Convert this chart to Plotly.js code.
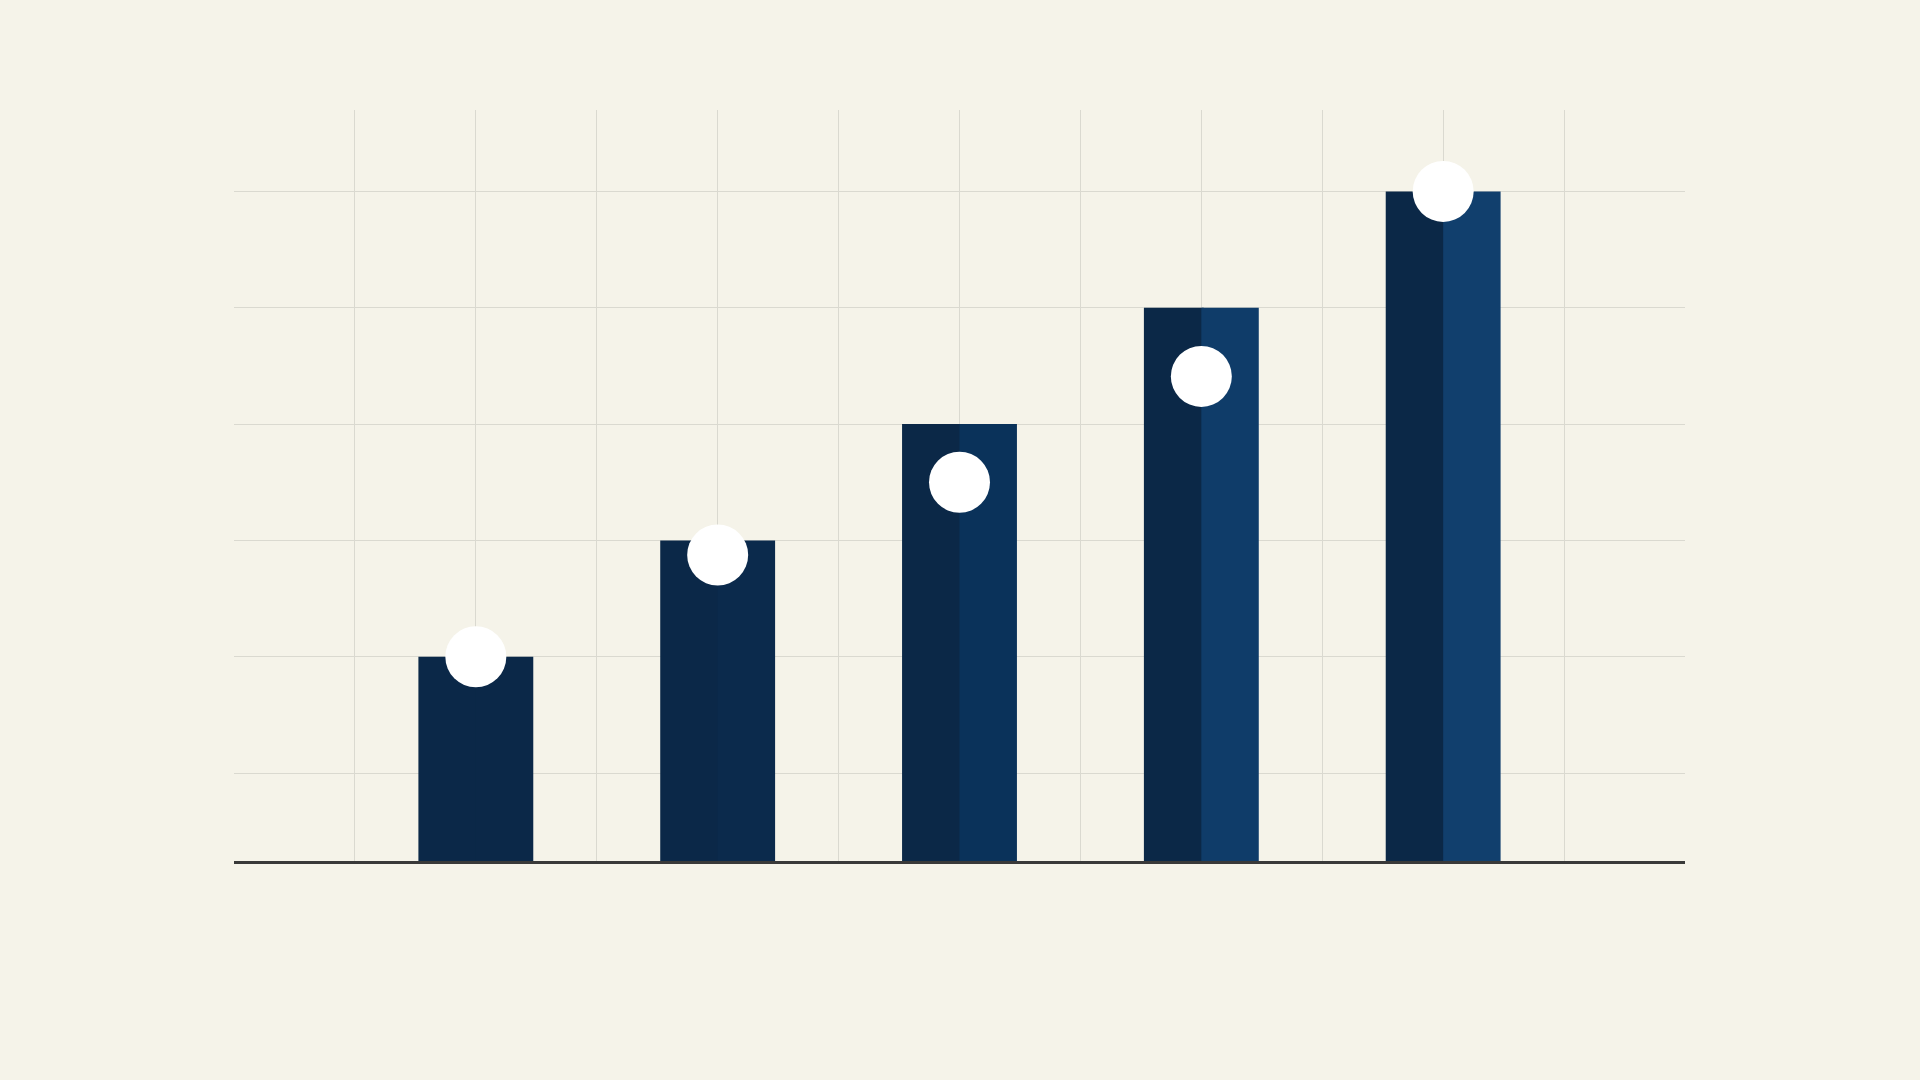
<!DOCTYPE html>
<html>
<head>
<meta charset="utf-8">
<script src="https://cdn.plot.ly/plotly-3.0.1.min.js"></script>
<style>
  html, body { margin:0; padding:0; background:#f5f3e9; }
  #chart { width:1920px; height:1080px; }
</style>
</head>
<body>
<div id="chart"></div>
<script>
// positions of the five bars on the grid
const positions = [1, 3, 5, 7, 9];
// bar heights
const barValues = [2, 3, 4, 5, 6];
// white markers
const dotValues = [2.0, 2.875, 3.5, 4.41, 6.0];

const leftColors = ['#0b2848', '#0b2848', '#0b2847', '#0b2847', '#0b2847'];
const rightColors = ['#0b2848', '#0b2a4c', '#0a325a', '#0f3c69', '#113f6d'];

const half = 0.475;

const traces = [
  // left half drawn a bit wider so no seam shows between the two halves
  { type:'bar', x:positions, y:barValues, width:half + 0.02, offset:-half,
    marker:{color:leftColors, line:{width:0}}, hoverinfo:'skip' },
  { type:'bar', x:positions, y:barValues, width:half, offset:0,
    marker:{color:rightColors, line:{width:0}}, hoverinfo:'skip' },
  { type:'scatter', mode:'markers', x:positions, y:dotValues,
    marker:{size:61, color:'#ffffff', line:{width:0}}, hoverinfo:'skip', cliponaxis:false }
];

const layout = {
  width:1920, height:1080,
  margin:{l:234, r:235, t:110, b:219},
  paper_bgcolor:'#f5f3e9',
  plot_bgcolor:'#f5f3e9',
  barmode:'overlay',
  showlegend:false,
  xaxis:{
    range:[-1, 11], tickvals:[0,1,2,3,4,5,6,7,8,9,10],
    showticklabels:false, ticks:'', zeroline:false,
    showgrid:true, gridcolor:'#dad9d0', gridwidth:1,
    showline:true, linecolor:'#393939', linewidth:3
  },
  yaxis:{
    range:[0.244, 6.70], tick0:0, dtick:1,
    showticklabels:false, ticks:'', zeroline:false,
    showgrid:true, gridcolor:'#dad9d0', gridwidth:1,
    showline:false
  }
};

Plotly.newPlot('chart', traces, layout, {displayModeBar:false, staticPlot:true});
</script>
</body>
</html>
